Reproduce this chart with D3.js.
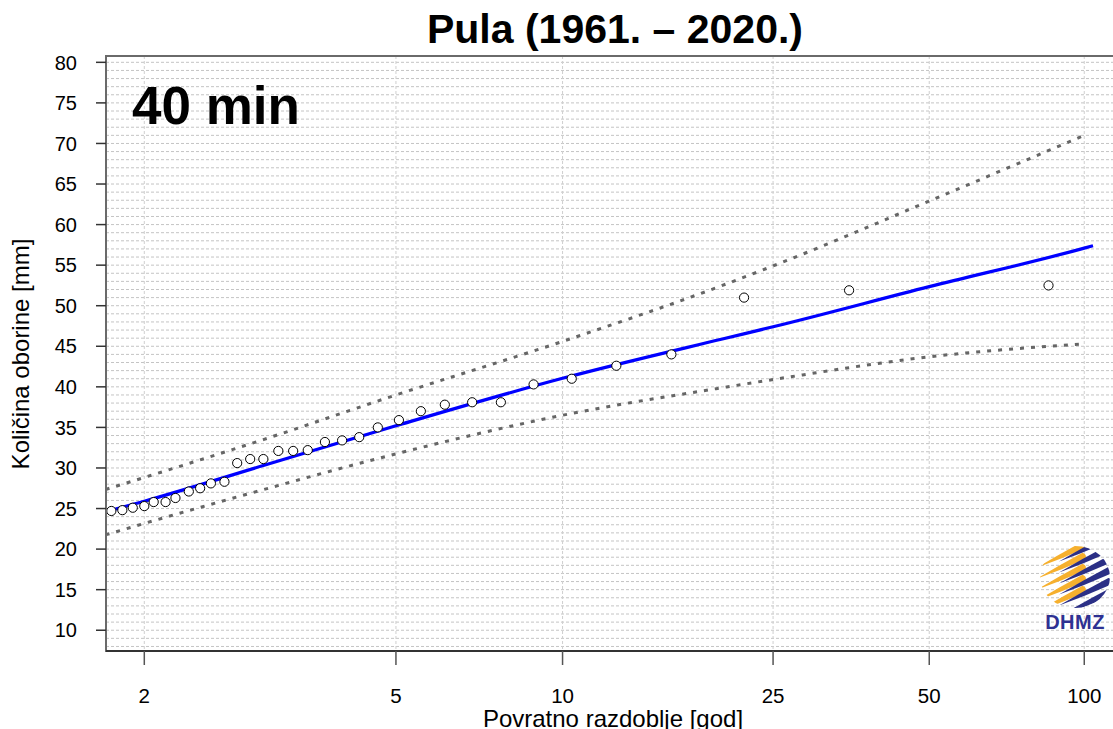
<!DOCTYPE html>
<html><head><meta charset="utf-8">
<script src="https://cdn.jsdelivr.net/npm/d3@7"></script>
<style>body{margin:0;background:#fff}svg{display:block}</style>
</head><body>
<svg id="c" width="1113" height="729"></svg>
<script>
// ---------- data ----------
const titleText = "Pula (1961. – 2020.)";
const durationLabel = "40 min";
const yAxisLabel = "Količina oborine [mm]";
const xAxisLabel = "Povratno razdoblje [god]";
const xTickValues = [2, 5, 10, 25, 50, 100];
const yTickValues = [10, 15, 20, 25, 30, 35, 40, 45, 50, 55, 60, 65, 70, 75, 80];
const yGridValues = d3.range(8, 81);
const xDomainT = [1.782, 119.5];
const yDomain = [7.44, 80.78];

// observed annual maxima: return period [god], amount [mm]
const obsT = [1.81, 1.87, 1.93, 2.0, 2.06, 2.14, 2.21, 2.31, 2.40, 2.49, 2.61, 2.73, 2.86, 3.0, 3.17, 3.35, 3.54, 3.78, 4.04, 4.32, 4.65, 5.06, 5.53, 6.1, 6.83, 7.7, 8.84, 10.4, 12.6, 16.0, 22.0, 35.0, 85.2];
const obsV = [24.7, 24.8, 25.1, 25.3, 25.8, 25.8, 26.3, 27.1, 27.5, 28.1, 28.3, 30.6, 31.1, 31.1, 32.1, 32.1, 32.2, 33.2, 33.4, 33.8, 35.0, 35.9, 37.0, 37.8, 38.1, 38.1, 40.3, 41.0, 42.6, 44.0, 51.0, 51.9, 52.5];

// fitted curve
const fitT = [1.78, 2, 3, 5, 10, 20, 25, 50, 100, 104];
const fitV = [24.6, 25.9, 30.3, 35.2, 41.05, 45.9, 47.4, 52.35, 57.1, 57.4];

// confidence bands
const bandT = [1.78, 2, 3, 5, 10, 20, 25, 50, 100];
const upperV = [27.35, 28.83, 33.5, 39.0, 45.6, 52.5, 54.9, 62.9, 71.0];
const lowerV = [21.75, 23.16, 27.33, 31.74, 36.5, 39.9, 40.9, 43.7, 45.3];

// ---------- drawing ----------
const FONT = "'Liberation Sans', Arial, Helvetica, sans-serif";
const svg = d3.select("#c").style("font-family", FONT);
const L = 106, R = 1124, T = 56, B = 651;
const gumbel = t => -Math.log(-Math.log(1 - 1 / t));
const x = d3.scaleLinear().domain(xDomainT.map(gumbel)).range([L, R]);
const xT = t => x(gumbel(t));
const y = d3.scaleLinear().domain(yDomain).range([B, T]);

const defs = svg.append("defs");
defs.append("clipPath").attr("id", "plotclip")
  .append("rect").attr("x", L).attr("y", T).attr("width", R - L).attr("height", B - T);
defs.append("clipPath").attr("id", "logoclip")
  .append("ellipse").attr("cx", 0).attr("cy", 0).attr("rx", 35).attr("ry", 31);

// grid
const grid = svg.append("g");
grid.selectAll("line.h").data(yGridValues).join("line").attr("class", "h")
  .attr("x1", L).attr("x2", R).attr("y1", d => y(d)).attr("y2", d => y(d))
  .attr("stroke", "#c4c4c4").attr("stroke-width", 1).attr("stroke-dasharray", "3,2");
grid.selectAll("line.v").data(xTickValues).join("line").attr("class", "v")
  .attr("x1", d => xT(d)).attr("x2", d => xT(d)).attr("y1", T).attr("y2", B)
  .attr("stroke", "#cfcfcf").attr("stroke-width", 1).attr("stroke-dasharray", "3,2");

// logo (DHMZ)
const logo = svg.append("g").attr("transform", "translate(1075,577)");
const lg = logo.append("g").attr("clip-path", "url(#logoclip)");
// comet-like swooshes: pointed tail left, thick head right
const swoosh = (len, w) => `M${-len / 2},0 Q0,${-w * 0.6} ${len / 2},${-w} Q${len / 2 + 4},${-w / 2} ${len / 2},0 Q0,${w * 0.15} ${-len / 2},0 Z`;
const orangeOff = [-30, -19, -8, 3, 14, 25];
const navyOff = [-26, -15, -4, 7, 18, 29];
orangeOff.forEach((o) => {
  lg.append("path").attr("d", swoosh(52, 7))
    .attr("transform", `translate(-14,${o}) rotate(-22)`).attr("fill", "#f6b02e");
});
navyOff.forEach((o) => {
  lg.append("path").attr("d", swoosh(56, 7))
    .attr("transform", `translate(10,${o}) rotate(-22)`).attr("fill", "#2b2f86");
});
logo.append("text").attr("x", 0).attr("y", 52).attr("text-anchor", "middle")
  .attr("font-size", 20).attr("font-weight", "bold").attr("fill", "#2e3192")
  .attr("letter-spacing", 0.5).text("DHMZ");

// curves
const plot = svg.append("g").attr("clip-path", "url(#plotclip)");
const line = d3.line().x(d => xT(d[0])).y(d => y(d[1])).curve(d3.curveMonotoneX);
plot.append("path").datum(d3.zip(bandT, upperV)).attr("d", line)
  .attr("fill", "none").attr("stroke", "#666").attr("stroke-width", 3)
  .attr("stroke-dasharray", "4,7");
plot.append("path").datum(d3.zip(bandT, lowerV)).attr("d", line)
  .attr("fill", "none").attr("stroke", "#666").attr("stroke-width", 3)
  .attr("stroke-dasharray", "4,7");
plot.append("path").datum(d3.zip(fitT, fitV)).attr("d", line)
  .attr("fill", "none").attr("stroke", "#0000ff").attr("stroke-width", 3.2);

// points
plot.selectAll("circle").data(d3.zip(obsT, obsV)).join("circle")
  .attr("cx", d => xT(d[0])).attr("cy", d => y(d[1])).attr("r", 4.6)
  .attr("fill", "#fff").attr("stroke", "#000").attr("stroke-width", 1);

// frame
svg.append("rect").attr("x", L).attr("y", T).attr("width", R - L).attr("height", B - T)
  .attr("fill", "none").attr("stroke", "#6a6a6a").attr("stroke-width", 2);
svg.append("line").attr("x1", L).attr("x2", R).attr("y1", B).attr("y2", B)
  .attr("stroke", "#222").attr("stroke-width", 1.5);

// y axis
const yAxis = svg.append("g");
yAxis.selectAll("line").data(yTickValues).join("line")
  .attr("x1", L - 10).attr("x2", L).attr("y1", d => y(d)).attr("y2", d => y(d))
  .attr("stroke", "#333").attr("stroke-width", 1.5);
yAxis.selectAll("text").data(yTickValues).join("text")
  .attr("x", 77).attr("y", d => y(d)).attr("dy", "0.36em").attr("text-anchor", "end")
  .attr("font-size", 20).attr("fill", "#000").text(d => d);

// x axis
const xAxis = svg.append("g");
xAxis.selectAll("line").data(xTickValues).join("line")
  .attr("x1", d => xT(d)).attr("x2", d => xT(d)).attr("y1", B).attr("y2", B + 14)
  .attr("stroke", "#555").attr("stroke-width", 1.5);
xAxis.selectAll("text").data(xTickValues).join("text")
  .attr("x", d => xT(d)).attr("y", 703).attr("text-anchor", "middle")
  .attr("font-size", 20.5).attr("fill", "#000").text(d => d);

// labels
svg.append("text").attr("x", 615).attr("y", 43).attr("text-anchor", "middle")
  .attr("font-size", 41).attr("font-weight", "bold").text(titleText);
svg.append("text").attr("x", 132).attr("y", 124)
  .attr("font-size", 53).attr("font-weight", "bold").text(durationLabel);
svg.append("text").attr("transform", "translate(28.5,354) rotate(-90)")
  .attr("text-anchor", "middle").attr("font-size", 24).text(yAxisLabel);
svg.append("text").attr("x", 613).attr("y", 727).attr("text-anchor", "middle")
  .attr("font-size", 24).text(xAxisLabel);
</script>
</body></html>
